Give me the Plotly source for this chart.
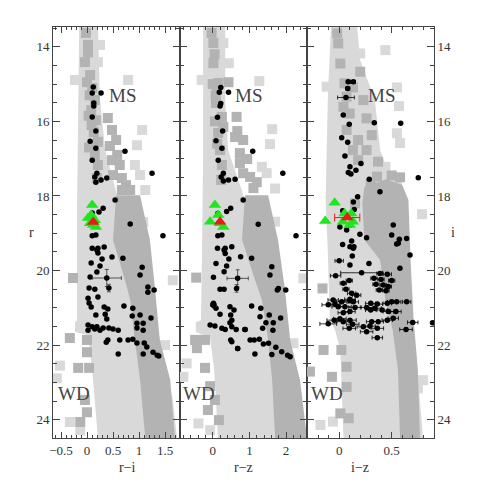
import plotly.graph_objects as go
from plotly.subplots import make_subplots

# ---------------- panel 1 : r-i vs r ----------------
p1_light_band_x = [-0.15, -0.17, -0.19, -0.19, -0.23, -0.23, 0.02, 0.10, 0.15, 0.21,
                   1.73, 1.65, 1.40, 1.17, 0.92, 0.60, 0.35, 0.25, 0.21]
p1_light_band_y = [13.47, 15.43, 18.11, 21.33, 21.38, 21.65, 21.73, 22.67, 23.47, 24.49,
                   24.49, 23.47, 21.86, 19.99, 18.91, 18.11, 16.77, 15.43, 13.47]
p1_dark_band_x = [0.56, 0.50, 0.73, 0.83, 0.92, 1.02, 1.12, 1.69, 1.60, 1.40, 1.31, 1.21, 1.02]
p1_dark_band_y = [17.98, 19.18, 20.26, 20.79, 21.86, 22.93, 24.49, 24.49, 22.93, 21.86, 20.52, 19.18, 17.98]
p1_dark_sq_x = [-0.02, 0.02, -0.04, 0.06, 0.10, 0.15, 0.08, 0.17, 0.13, 0.21, 0.15, 0.21, 0.19,
                0.02, 0.00, 0.05, 0.03, 0.09, 0.04,
                0.40, 0.48, 0.56, 0.44, 0.58, 0.48, 0.63, 0.50, 0.67, 0.75, 0.83, 0.67,
                -0.27, -0.33, 0.00, 0.00, -0.17, 0.04, -0.04, 0.00, -0.13]
p1_dark_sq_y = [13.63, 13.95, 14.41, 14.76, 15.11, 15.43, 15.70, 15.97, 16.29, 16.55, 16.90, 17.17, 17.52,
                14.15, 14.95, 15.30, 15.85, 16.10, 16.70,
                15.91, 16.23, 16.50, 16.66, 16.90, 17.04, 17.17, 17.44, 17.52, 17.71, 17.84, 17.84,
                20.20, 21.81, 21.86, 22.19, 22.61, 22.61, 23.47, 23.80, 24.06]
p1_light_sq_x = [-0.23, 0.79, 1.06, 0.96, 0.21, 0.25, 0.92, 1.02, 1.12, 1.08, 1.65,
                 -0.52, -0.58, -0.33, -0.13, 1.50]
p1_light_sq_y = [14.89, 14.89, 16.23, 16.64, 14.41, 13.95, 17.17, 17.44, 17.84, 18.70, 20.26,
                 22.55, 22.89, 24.06, 24.28, 22.00]
p1_dots_x = [0.12, 0.10, 0.27, 0.13, 0.13, 0.10, 0.17, 0.06, 0.17, 0.73, 0.10, 0.19, 0.15, 0.38,
             0.17, 0.27, 1.25, 0.54, 0.31, 0.23, 0.10, 0.83, 1.46, 0.10, 0.17, 0.10, 0.21, 0.33,
             0.19, 0.21, 0.29, 0.48, 0.69, 0.08, 0.25, 0.19, 0.06, 1.06, 1.02, 0.04, 0.15, 0.21,
             0.02, 0.04, 0.08, 0.33, 0.40, 0.17, 0.35, 0.38, 1.17, 1.29, 1.17, 0.71, 0.88, 1.02,
             0.87, 1.23, 1.08, 0.96, 0.96, 1.08, 0.02, 0.10, 0.19, 0.25, 0.02, 0.15, 0.31, 0.42,
             0.60, 0.50, 0.40, 0.37, 0.63, 0.79, 0.88, 0.96, 1.10, 0.60, 1.08, 1.15, 1.27, 1.35, 1.38]
p1_dots_y = [15.08, 15.24, 15.24, 15.51, 15.59, 15.88, 16.26, 16.53, 16.72, 16.80, 17.04, 17.39, 17.49, 17.52,
             17.63, 17.57, 17.39, 18.11, 18.33, 18.43, 18.46, 18.75, 19.07, 19.07, 19.05, 19.40, 19.40, 19.37,
             19.45, 19.53, 19.69, 19.64, 19.67, 19.80, 19.88, 20.04, 20.17, 19.91, 20.12, 20.47, 20.50, 20.71,
             20.74, 20.87, 20.98, 20.98, 21.03, 21.19, 21.17, 21.30, 20.44, 20.52, 20.58, 20.95, 21.01, 21.19,
             21.22, 21.27, 21.41, 21.41, 21.54, 21.60, 21.46, 21.51, 21.51, 21.60, 21.60, 21.57, 21.54, 21.54,
             21.60, 21.57, 21.86, 21.92, 21.86, 21.86, 21.84, 21.94, 21.94, 22.24, 22.24, 22.05, 22.19, 22.27, 22.29]
p1_err_x = [0.38, 0.42]
p1_err_y = [20.20, 20.47]
p1_err_dx = [0.28, 0.0]
p1_err_dy = [0.23, 0.10]
p1_green_x = [0.10, 0.08, 0.02, 0.17, 0.06, 0.15, 0.12]
p1_green_y = [18.24, 18.51, 18.59, 18.83, 18.73, 18.65, 18.78]
p1_red_x = [0.12]
p1_red_y = [18.70]

# ---------------- panel 2 : r-z vs r ----------------
p2_light_band_x = [-0.26, -0.26, -0.29, -0.32, -0.46, -0.46, -0.07, 0.04, 0.09, 0.14,
                   2.52, 2.38, 2.11, 1.83, 1.43, 0.88, 0.42, 0.34, 0.34]
p2_light_band_y = [13.47, 16.77, 19.45, 21.33, 21.38, 21.65, 21.81, 22.67, 23.47, 24.49,
                   24.49, 23.47, 22.00, 20.25, 18.91, 18.11, 16.77, 15.43, 13.47]
p2_dark_band_x = [0.88, 0.80, 1.15, 1.34, 1.51, 1.62, 1.70, 2.57, 2.38, 2.11, 1.97, 1.78, 1.51]
p2_dark_band_y = [17.98, 19.18, 20.25, 20.79, 21.86, 22.94, 24.49, 24.49, 22.94, 21.86, 20.52, 19.18, 17.98]
p2_dark_sq_x = [-0.03, 0.02, 0.02, 0.15, 0.43, 0.11, 0.09, 0.25, 0.29, 0.15, 0.20, 0.25, 0.23,
                0.05, 0.00, 0.08, 0.06, 0.12,
                0.65, 0.67, 0.83, 0.61, 0.74, 0.94, 0.74, 0.83, 1.02, 1.20, 1.11,
                -0.45, -0.48, -0.21, -0.43, -0.21, -0.07, 0.06, -0.13, 0.17]
p2_dark_sq_y = [13.63, 13.90, 14.44, 14.97, 14.95, 15.16, 15.51, 15.88, 16.15, 16.31, 16.77, 17.17, 17.57,
                14.20, 15.00, 15.30, 16.00, 16.60,
                15.88, 16.26, 16.50, 16.42, 16.85, 17.01, 17.12, 17.39, 17.49, 17.63, 17.79,
                20.19, 21.86, 21.86, 22.08, 22.61, 23.10, 23.47, 23.74, 24.01]
p2_light_sq_x = [1.27, 1.62, 1.56, -0.30, 0.44, 0.29, 1.34, 1.47, 1.70, 1.70,
                 -0.71, -0.80, -0.39, -0.07, 2.20, 2.47]
p2_light_sq_y = [14.92, 16.21, 16.61, 14.89, 14.44, 13.90, 17.22, 17.39, 17.80, 18.69,
                 22.49, 22.85, 24.10, 24.28, 21.95, 20.21]
p2_dots_x = [0.22, 0.18, 0.43, 0.22, 0.20, 0.13, 0.27, 0.09, 0.25, 1.09, 0.15, 0.23, 0.29, 0.43,
             0.61, 0.29, 1.91, 0.83, 0.49, 0.38, 0.14, 1.24, 2.27, 0.14, 0.25, 0.13, 0.34, 0.52,
             0.31, 0.34, 0.44, 0.76, 1.06, 0.09, 0.38, 0.31, 0.02, 1.61, 1.56, 0.20, 0.31, 0.02,
             0.04, 0.09, 0.47, 0.58, 0.20, 0.49, 0.52, 1.79, 1.76, 1.99, 1.06, 1.31, 1.54, 1.29,
             1.85, 1.65, 1.45, 1.36, 1.64, -0.07, 0.06, 0.25, 0.34, 0.52, 0.64, 0.88, 0.47, 0.00,
             0.49, 0.52, 1.02, 1.13, 1.27, 1.38, 1.52, 0.68, 1.15, 1.61, 1.72, 1.88, 2.04, 2.11]
p2_dots_y = [15.09, 15.22, 15.22, 15.52, 15.59, 15.89, 16.26, 16.52, 16.72, 16.80, 17.04, 17.49, 17.39, 17.57,
             17.55, 17.60, 17.39, 18.11, 18.33, 18.42, 18.47, 18.76, 19.07, 19.07, 19.05, 19.40, 19.40, 19.36,
             19.45, 19.54, 19.69, 19.63, 19.67, 19.81, 19.88, 20.03, 20.18, 19.90, 20.12, 20.50, 20.50, 20.88,
             20.95, 21.01, 20.97, 21.06, 21.17, 21.19, 21.33, 20.48, 20.52, 20.52, 20.95, 21.01, 21.19, 21.24,
             21.27, 21.40, 21.40, 21.55, 21.60, 21.46, 21.49, 21.55, 21.58, 21.51, 21.58, 21.58, 21.40, 20.92,
             21.86, 21.91, 21.86, 21.86, 21.84, 21.97, 21.95, 22.09, 22.24, 22.25, 22.06, 22.18, 22.27, 22.31]
p2_err_x = [0.68, 0.65, 0.02, 0.88, 0.68]
p2_err_y = [20.21, 20.48, 20.92, 21.58, 22.09]
p2_err_dx = [0.29, 0.0, 0.08, 0.06, 0.05]
p2_err_dy = [0.23, 0.10, 0.0, 0.0, 0.0]
p2_green_x = [0.06, -0.07, 0.15, 0.29, 0.20]
p2_green_y = [18.24, 18.69, 18.51, 18.83, 18.73]
p2_red_x = [0.20]
p2_red_y = [18.69]

# ---------------- panel 3 : i-z vs i ----------------
p3_light_band_x = [-0.08, -0.11, -0.13, -0.11, -0.09, -0.04, 0.01, 0.03, 0.04,
                   0.80, 0.77, 0.72, 0.68, 0.63, 0.53, 0.39, 0.34, 0.20, 0.17]
p3_light_band_y = [13.47, 15.43, 18.11, 19.45, 21.33, 21.60, 22.13, 23.47, 24.49,
                   24.49, 23.47, 21.86, 20.25, 18.91, 17.84, 16.77, 15.43, 14.36, 13.47]
p3_dark_band_x = [0.24, 0.22, 0.24, 0.39, 0.44, 0.51, 0.56, 0.58, 0.77, 0.75, 0.71, 0.68, 0.66, 0.60, 0.45]
p3_dark_band_y = [17.75, 18.20, 19.18, 19.72, 20.79, 21.60, 22.67, 24.49, 24.49, 22.67, 21.33, 19.72, 18.11, 17.70, 17.55]
p3_dark_sq_x = [-0.02, -0.01, 0.01, 0.05, 0.13, 0.20, 0.07, 0.23, 0.04, 0.10, 0.26, 0.18, 0.07, 0.31,
                0.13, 0.26, 0.18, 0.37, 0.36, 0.15, 0.30, 0.50, 0.58,
                -0.16, -0.15, 0.02, 0.07, -0.07, 0.07, 0.01, 0.09, -0.28]
p3_dark_sq_y = [13.64, 13.91, 14.45, 14.98, 15.09, 14.67, 15.34, 15.43, 15.61, 15.79, 15.92, 16.50, 16.23, 16.37,
                16.77, 16.77, 17.04, 17.08, 17.48, 18.20, 17.70, 17.45, 17.50,
                20.48, 22.13, 22.13, 22.58, 22.85, 23.12, 23.83, 23.96, 22.71]
p3_light_sq_x = [0.44, 0.20, 0.57, 0.55, 0.55, 0.58, 0.44, 0.55, 0.79, -0.12, 0.08,
                 -0.18, -0.06, 0.80, 0.75]
p3_light_sq_y = [14.09, 14.18, 15.59, 15.09, 16.32, 16.58, 17.22, 17.57, 18.49, 15.07, 14.13,
                 24.14, 24.05, 22.94, 23.16]
p3_dots_x = [0.086, 0.134, 0.080, 0.064, 0.038, 0.095, 0.334, 0.586, 0.023, 0.080, 0.054, 0.207,
             0.102, 0.086, 0.111, 0.159, 0.286, 0.754, 0.388, 0.175, 0.134, 0.143, 0.032,
             0.515, 0.006, 0.102, 0.070, 0.643, 0.573, 0.197, 0.261, 0.500, 0.563, 0.118, 0.032,
             0.134, 0.548, 0.102, 0.140, 0.675, 0.124, -0.001, 0.102, 0.283, 0.579, 0.213,
             -0.035, 0.388, 0.458, 0.038, 0.095, 0.331, 0.398, 0.500, 0.350, 0.420, 0.468,
             0.064, 0.382, 0.446, 0.118, 0.166, 0.102, -0.058, -0.041, 0.102, 0.023, 0.134,
             0.300, 0.363, 0.458, 0.500, 0.548, 0.643, -0.105, -0.010, 0.054, 0.150, 0.261,
             0.341, 0.300, 0.409, 0.468, 0.541, 0.102, 0.038, 0.006, -0.048, -0.105, 0.102,
             0.038, 0.309, 0.372, 0.458, 0.515, 0.701, 0.890, 0.128, 0.229, 0.363, 0.095,
             0.261, 0.637, 0.363, 0.293]
p3_dots_y = [14.94, 14.94, 15.12, 15.36, 15.83, 16.08, 16.04, 16.05, 16.44, 16.56, 16.93, 17.13,
             17.22, 17.37, 17.41, 17.31, 17.55, 17.51, 17.89, 18.02, 18.16, 18.36, 18.40,
             18.78, 18.83, 18.78, 18.91, 19.14, 19.16, 19.03, 19.12, 19.05, 19.27, 19.21, 19.30,
             19.40, 19.29, 19.36, 19.36, 19.58, 19.61, 19.74, 19.85, 19.81, 19.94, 20.06,
             20.14, 20.08, 20.10, 20.34, 20.27, 20.21, 20.24, 20.27, 20.37, 20.39, 20.43,
             20.50, 20.52, 20.54, 20.61, 20.66, 20.77, 20.79, 20.90, 20.81, 20.84, 20.84,
             20.88, 20.90, 20.88, 20.84, 20.84, 20.84, 20.92, 20.97, 20.97, 20.99, 20.99,
             21.01, 21.06, 21.06, 21.10, 21.10, 21.10, 21.13, 21.29, 21.33, 21.43, 21.33,
             21.37, 21.37, 21.37, 21.33, 21.28, 21.39, 21.40, 21.44, 21.51, 21.55, 21.55,
             21.64, 21.58, 21.80, 21.49]
p3_dots_dx = [0.02, 0.02, 0.02, 0.08, 0, 0, 0, 0, 0, 0, 0, 0,
              0, 0, 0, 0, 0, 0, 0, 0, 0, 0, 0,
              0, 0, 0, 0, 0, 0, 0, 0, 0, 0, 0, 0,
              0, 0, 0, 0, 0, 0, 0.04, 0, 0, 0, 0.2,
              0.05, 0.03, 0.04, 0.03, 0.03, 0.03, 0.03, 0.03, 0.03, 0.03, 0.03,
              0.03, 0.03, 0.03, 0.04, 0.04, 0.05, 0.05, 0.05, 0.05, 0.05, 0.05,
              0.05, 0.05, 0.04, 0.04, 0.04, 0.04, 0.06, 0.06, 0.06, 0.06, 0.06,
              0.06, 0.05, 0.05, 0.05, 0.05, 0.05, 0.05, 0.06, 0.07, 0.08, 0.06,
              0.06, 0.05, 0.05, 0.05, 0.05, 0.05, 0, 0.06, 0.06, 0.06, 0.06,
              0.06, 0.06, 0.05, 0.05]
p3_green_x = [-0.044, -0.134, 0.051, 0.114, 0.035, 0.130, 0.099]
p3_green_y = [18.18, 18.67, 18.47, 18.47, 18.69, 18.69, 18.78]
p3_red_x = [0.076]
p3_red_y = [18.58]
p3_red_dx = [0.12]

x_ranges = [[-0.654, 1.788], [-0.891, 2.569], [-0.308, 0.904]]
y_range = [24.49, 13.47]
x_titles = ["r\u2212i", "r\u2212z", "i\u2212z"]
ms_x = [0.69, 0.97, 0.405]
wd_x = [-0.25, -0.36, -0.12]

LIGHT = "#d9d9d9"
DARK = "#b3b3b3"
GREEN = "#1fe61f"
RED = "#e81a1a"
FONT = "Liberation Serif"

panels = [
    dict(lbx=p1_light_band_x, lby=p1_light_band_y, dbx=p1_dark_band_x, dby=p1_dark_band_y,
         dsx=p1_dark_sq_x, dsy=p1_dark_sq_y, lsx=p1_light_sq_x, lsy=p1_light_sq_y,
         dx=p1_dots_x, dy=p1_dots_y, ddx=None,
         ex=p1_err_x, ey=p1_err_y, edx=p1_err_dx, edy=p1_err_dy,
         gx=p1_green_x, gy=p1_green_y, rx=p1_red_x, ry=p1_red_y, rdx=None),
    dict(lbx=p2_light_band_x, lby=p2_light_band_y, dbx=p2_dark_band_x, dby=p2_dark_band_y,
         dsx=p2_dark_sq_x, dsy=p2_dark_sq_y, lsx=p2_light_sq_x, lsy=p2_light_sq_y,
         dx=p2_dots_x, dy=p2_dots_y, ddx=None,
         ex=p2_err_x, ey=p2_err_y, edx=p2_err_dx, edy=p2_err_dy,
         gx=p2_green_x, gy=p2_green_y, rx=p2_red_x, ry=p2_red_y, rdx=None),
    dict(lbx=p3_light_band_x, lby=p3_light_band_y, dbx=p3_dark_band_x, dby=p3_dark_band_y,
         dsx=p3_dark_sq_x, dsy=p3_dark_sq_y, lsx=p3_light_sq_x, lsy=p3_light_sq_y,
         dx=p3_dots_x, dy=p3_dots_y, ddx=p3_dots_dx,
         ex=None, ey=None, edx=None, edy=None,
         gx=p3_green_x, gy=p3_green_y, rx=p3_red_x, ry=p3_red_y, rdx=p3_red_dx),
]

fig = make_subplots(rows=1, cols=3, horizontal_spacing=0)

for i, p in enumerate(panels):
    col = i + 1
    fig.add_trace(go.Scatter(x=p["lbx"], y=p["lby"], mode="lines", fill="toself",
                             fillcolor=LIGHT, line=dict(width=0), hoverinfo="skip"), row=1, col=col)
    fig.add_trace(go.Scatter(x=p["lsx"], y=p["lsy"], mode="markers",
                             marker=dict(symbol="square", size=10, color=LIGHT)), row=1, col=col)
    fig.add_trace(go.Scatter(x=p["dbx"], y=p["dby"], mode="lines", fill="toself",
                             fillcolor=DARK, line=dict(width=0), hoverinfo="skip"), row=1, col=col)
    fig.add_trace(go.Scatter(x=p["dsx"], y=p["dsy"], mode="markers",
                             marker=dict(symbol="square", size=10, color=DARK)), row=1, col=col)
    dots = go.Scatter(x=p["dx"], y=p["dy"], mode="markers",
                      marker=dict(symbol="circle", size=5.5, color="black"))
    if p["ddx"] is not None:
        dots.error_x = dict(type="data", array=p["ddx"], color="black", thickness=0.8, width=2)
    fig.add_trace(dots, row=1, col=col)
    if p["ex"] is not None:
        fig.add_trace(go.Scatter(x=p["ex"], y=p["ey"], mode="markers",
                                 marker=dict(symbol="circle", size=5.5, color="black"),
                                 error_x=dict(type="data", array=p["edx"], color="#333", thickness=0.8, width=2),
                                 error_y=dict(type="data", array=p["edy"], color="#333", thickness=0.8, width=2)),
                      row=1, col=col)
    fig.add_trace(go.Scatter(x=p["gx"], y=p["gy"], mode="markers",
                             marker=dict(symbol="triangle-up", size=11, color=GREEN)), row=1, col=col)
    red = go.Scatter(x=p["rx"], y=p["ry"], mode="markers",
                     marker=dict(symbol="triangle-up", size=11, color=RED))
    if p["rdx"] is not None:
        red.error_x = dict(type="data", array=p["rdx"], color=RED, thickness=1, width=4)
    fig.add_trace(red, row=1, col=col)

axis_common = dict(showgrid=False, zeroline=False, showline=True, linecolor="#444",
                   linewidth=1, mirror="ticks", ticks="inside", tickcolor="#444",
                   tickfont=dict(family=FONT, size=13, color="#333"))

x_dticks = [(0.5, 0.1), (1, 0.2), (0.5, 0.1)]
for i in range(3):
    name = "xaxis" if i == 0 else f"xaxis{i + 1}"
    fig.layout[name].update(range=x_ranges[i], dtick=x_dticks[i][0], ticklen=6,
                            minor=dict(ticks="inside", dtick=x_dticks[i][1], ticklen=3, tickcolor="#444"),
                            **axis_common)
    yname = "yaxis" if i == 0 else f"yaxis{i + 1}"
    fig.layout[yname].update(range=y_range, dtick=2, ticklen=7,
                             minor=dict(ticks="inside", dtick=0.5, ticklen=4, tickcolor="#444"),
                             showticklabels=(i != 1), side=("right" if i == 2 else "left"),
                             **axis_common)

annotations = []
for i in range(3):
    xr = "x" if i == 0 else f"x{i + 1}"
    yr = "y" if i == 0 else f"y{i + 1}"
    annotations.append(dict(x=ms_x[i], y=15.3, xref=xr, yref=yr, text="MS", showarrow=False,
                            font=dict(family=FONT, size=19, color="#444")))
    annotations.append(dict(x=wd_x[i], y=23.3, xref=xr, yref=yr, text="WD", showarrow=False,
                            font=dict(family=FONT, size=19, color="#444")))
    annotations.append(dict(x=(i + 0.5) / 3, y=-0.071, xref="paper", yref="paper", text=x_titles[i],
                            showarrow=False, yanchor="middle",
                            font=dict(family=FONT, size=14, color="#333")))
annotations.append(dict(x=-0.068, y=0.5, xref="paper", yref="paper", text="r", showarrow=False,
                        font=dict(family=FONT, size=14, color="#333")))
annotations.append(dict(x=1.06, y=0.5, xref="paper", yref="paper", text="i", showarrow=False,
                        font=dict(family=FONT, size=14, color="#333")))

fig.update_layout(width=491, height=491, margin=dict(l=53, r=57, t=27, b=53),
                  plot_bgcolor="white", paper_bgcolor="white", showlegend=False,
                  annotations=annotations, font=dict(family=FONT))

fig.write_html("out.html", config={"displayModeBar": False},
               post_script="document.body.style.margin='0';")
